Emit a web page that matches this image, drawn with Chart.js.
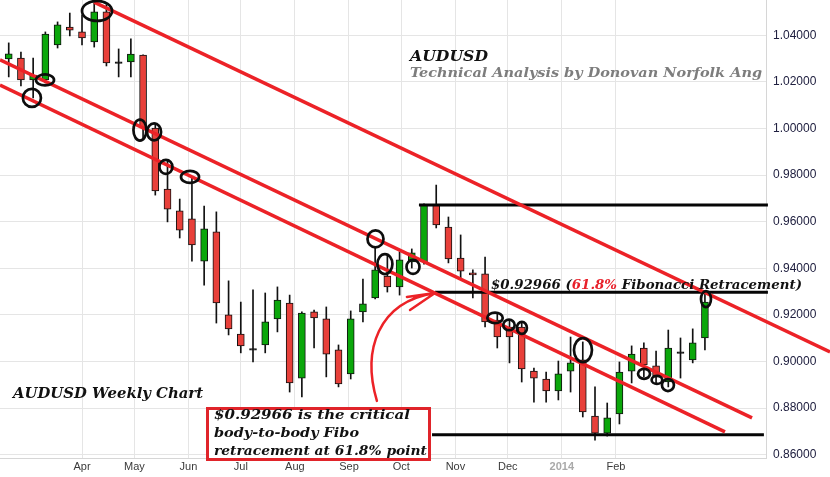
<!DOCTYPE html>
<html>
<head>
<meta charset="utf-8">
<script src="https://cdn.jsdelivr.net/npm/chart.js"></script>
<style>
  html, body { margin: 0; padding: 0; background: #fff; }
  #wrap { width: 830px; height: 477px; }
</style>
</head>
<body>
<div id="wrap"><canvas id="chart" width="830" height="477"></canvas></div>
<script>
// AUDUSD weekly candles (week start dates)
const weeks = [
  '2013-02-18', '2013-02-25', '2013-03-04', '2013-03-11', '2013-03-18', '2013-03-25',
  '2013-04-01', '2013-04-08', '2013-04-15', '2013-04-22', '2013-04-29', '2013-05-06',
  '2013-05-13', '2013-05-20', '2013-05-27', '2013-06-03', '2013-06-10', '2013-06-17',
  '2013-06-24', '2013-07-01', '2013-07-08', '2013-07-15', '2013-07-22', '2013-07-29',
  '2013-08-05', '2013-08-12', '2013-08-19', '2013-08-26', '2013-09-02', '2013-09-09',
  '2013-09-16', '2013-09-23', '2013-09-30', '2013-10-07', '2013-10-14', '2013-10-21',
  '2013-10-28', '2013-11-04', '2013-11-11', '2013-11-18', '2013-11-25', '2013-12-02',
  '2013-12-09', '2013-12-16', '2013-12-23', '2013-12-30', '2014-01-06', '2014-01-13',
  '2014-01-20', '2014-01-27', '2014-02-03', '2014-02-10', '2014-02-17', '2014-02-24',
  '2014-03-03', '2014-03-10', '2014-03-17', '2014-03-24'
];
const open = [
  1.0298, 1.0302, 1.0208, 1.0208, 1.0358, 1.0435, 1.0414, 1.0371, 1.0500, 1.0281,
  1.0285, 1.0315, 1.0002, 0.9740, 0.9646, 0.9612, 0.9431, 0.9556, 0.9200, 0.9118,
  0.9050, 0.9071, 0.9183, 0.9251, 0.8929, 0.9213, 0.9183, 0.9050, 0.8947, 0.9213,
  0.9273, 0.9367, 0.9320, 0.9427, 0.9427, 0.9672, 0.9577, 0.9444, 0.9380, 0.9376,
  0.9178, 0.9148, 0.9148, 0.8959, 0.8925, 0.8874, 0.8959, 0.9007, 0.8766, 0.8693,
  0.8775, 0.8959, 0.9058, 0.8981, 0.8912, 0.9037, 0.9007, 0.9101
];
const high = [
  1.0367, 1.0328, 1.0302, 1.0414, 1.0457, 1.0495, 1.0487, 1.0538, 1.0530, 1.0341,
  1.0384, 1.0316, 1.0023, 0.9865, 0.9697, 0.9792, 0.9667, 0.9642, 0.9346, 0.9255,
  0.9307, 0.9294, 0.9320, 0.9285, 0.9213, 0.9221, 0.9234, 0.9071, 0.9217, 0.9354,
  0.9491, 0.9457, 0.9470, 0.9483, 0.9676, 0.9757, 0.9620, 0.9543, 0.9393, 0.9448,
  0.9208, 0.9178, 0.9165, 0.8972, 0.8955, 0.9002, 0.9105, 0.9084, 0.8891, 0.8822,
  0.8998, 0.9067, 0.9080, 0.9045, 0.9135, 0.9101, 0.9140, 0.9303
];
const low = [
  1.0221, 1.0182, 1.0131, 1.0195, 1.0345, 1.0397, 1.0358, 1.0349, 1.0268, 1.0221,
  1.0221, 0.9959, 0.9714, 0.9599, 0.9530, 0.9431, 0.9328, 0.9165, 0.9114, 0.9037,
  0.8998, 0.9037, 0.9127, 0.8869, 0.8848, 0.9058, 0.8934, 0.8891, 0.8925, 0.9170,
  0.9268, 0.9298, 0.9285, 0.9401, 0.9418, 0.9573, 0.9423, 0.9358, 0.9273, 0.9148,
  0.9058, 0.8994, 0.8912, 0.8826, 0.8826, 0.8835, 0.8869, 0.8762, 0.8663, 0.8680,
  0.8732, 0.8908, 0.8934, 0.8908, 0.8891, 0.8929, 0.8994, 0.9050
];
const close = [
  1.0320, 1.0208, 1.0229, 1.0405, 1.0444, 1.0422, 1.0388, 1.0500, 1.0281, 1.0279,
  1.0319, 1.0002, 0.9732, 0.9654, 0.9564, 0.9500, 0.9569, 0.9251, 0.9140, 0.9067,
  0.9049, 0.9170, 0.9264, 0.8908, 0.9208, 0.9187, 0.9032, 0.8904, 0.9183, 0.9247,
  0.9393, 0.9320, 0.9436, 0.9466, 0.9672, 0.9586, 0.9440, 0.9388, 0.9371, 0.9170,
  0.9105, 0.9105, 0.8968, 0.8929, 0.8874, 0.8947, 0.8994, 0.8784, 0.8693, 0.8758,
  0.8955, 0.9032, 0.8985, 0.8938, 0.9058, 0.9035, 0.9080, 0.9255
];

// axis ticks
const monthTicks = ['2013-04-01', '2013-05-01', '2013-06-01', '2013-07-01', '2013-08-01', '2013-09-01',
                    '2013-10-01', '2013-11-01', '2013-12-01', '2014-01-01', '2014-02-01'];
const monthLabels = ['Apr', 'May', 'Jun', 'Jul', 'Aug', 'Sep', 'Oct', 'Nov', 'Dec', '2014', 'Feb'];
const priceTicks = [0.86, 0.88, 0.90, 0.92, 0.94, 0.96, 0.98, 1.00, 1.02, 1.04];

// hand drawn analysis (x = days since 1 Jan 2013, y = price)
const channelTop = [[96.9, 1.0542], [518.7, 0.9041]];
const channelMid = [[43.0, 1.0294], [474.0, 0.8758]];
const channelLow = [[43.0, 1.0186], [458.5, 0.8698]];
const swingHigh = [[283.1, 0.9672], [483.1, 0.9672]];
const fibLine = [[292.3, 0.92966], [483.1, 0.92966]];
const swingLow = [[290.6, 0.8686], [480.8, 0.8686]];
const rings = [
  [98.6, 1.0504], [68.8, 1.0208], [61.3, 1.0131], [123.2, 0.9993], [131.3, 0.9985],
  [138.1, 0.9835], [151.9, 0.9792], [258.2, 0.9526], [263.6, 0.9418], [279.7, 0.9406],
  [326.7, 0.9187], [334.7, 0.9157], [342.1, 0.9144], [377.1, 0.9049], [412.1, 0.8947],
  [419.5, 0.8921], [425.8, 0.8899], [447.6, 0.9268]
];
const ringSize = [
  [15, 10], [9, 5.5], [9, 9], [6.5, 10.5], [7, 8.5], [6.5, 7], [9, 6], [8, 8.5], [7.5, 10],
  [6.5, 7], [7.7, 5.2], [5.7, 5.3], [5, 6], [9, 12], [6, 5], [5.3, 4], [6, 6], [5, 8]
];
const arrowPath = [[259.0, 0.8831], [250.4, 0.9050], [259.6, 0.9255], [292.3, 0.9294]];
const arrowBarbs = [[276.2, 0.9277], [278.0, 0.9221]];

const t0 = Date.UTC(2013, 0, 1);
const day = s => (Date.parse(s) - t0) / 864e5;
const X = weeks.map(day);

const RED = '#ec2227';
const bodyColor = i => Math.abs(close[i] - open[i]) < 0.0004 ? '#111'
  : (close[i] > open[i] ? '#0ba70b' : '#e8403a');
const pts = arr => arr.map(([x, y]) => ({x, y}));
const lineSet = (arr, color, w) => ({
  type: 'line', data: pts(arr), borderColor: color, borderWidth: w,
  pointRadius: 0, clip: false, order: 0, tension: 0
});

function drawText(ctx, parts, x, y, width, size) {
  ctx.font = 'italic bold ' + size + 'px "DejaVu Serif"';
  const full = parts.map(p => p[0]).join('');
  const sx = width / ctx.measureText(full).width;
  ctx.save();
  ctx.translate(x, y);
  ctx.scale(sx, 1);
  ctx.textBaseline = 'alphabetic';
  let cx = 0;
  parts.forEach(([t, c]) => {
    ctx.fillStyle = c;
    ctx.fillText(t, cx, 0);
    cx += ctx.measureText(t).width;
  });
  ctx.restore();
}

const overlay = {
  id: 'overlay',
  afterDatasetsDraw(chart) {
    const ctx = chart.ctx;
    const xs = chart.scales.x, ys = chart.scales.y;
    const px = p => [xs.getPixelForValue(p[0]), ys.getPixelForValue(p[1])];
    ctx.save();

    // circled touches
    ctx.strokeStyle = '#0d0d0d';
    ctx.lineWidth = 2.7;
    rings.forEach((r, i) => {
      const [cx, cy] = px(r);
      ctx.beginPath();
      ctx.ellipse(cx, cy, ringSize[i][0], ringSize[i][1], 0, 0, Math.PI * 2);
      ctx.stroke();
    });

    // curved arrow to the fib level
    const [a, b, c, d] = arrowPath.map(px);
    ctx.strokeStyle = RED;
    ctx.lineWidth = 2.5;
    ctx.lineCap = 'round';
    ctx.beginPath();
    ctx.moveTo(a[0], a[1]);
    ctx.bezierCurveTo(b[0], b[1], c[0], c[1], d[0], d[1]);
    arrowBarbs.map(px).forEach(p => { ctx.moveTo(d[0], d[1]); ctx.lineTo(p[0], p[1]); });
    ctx.stroke();

    // note box
    ctx.fillStyle = '#fff';
    ctx.fillRect(207, 407, 223, 53);
    ctx.strokeStyle = '#e0242a';
    ctx.lineWidth = 3;
    ctx.strokeRect(207.5, 408.5, 222, 51);

    drawText(ctx, [['AUDUSD', '#111']], 410, 61, 78, 14);
    drawText(ctx, [['Technical Analysis by Donovan Norfolk Ang', '#7d7d7d']], 410, 77, 352, 13);
    drawText(ctx, [['AUDUSD Weekly Chart', '#111']], 13, 398, 190, 15);
    drawText(ctx, [['$0.92966 (', '#111'], ['61.8%', '#e8202a'], [' Fibonacci Retracement)', '#111']],
      491, 289, 311, 13.5);
    drawText(ctx, [['$0.92966 is the critical', '#111']], 214, 419, 196, 13.5);
    drawText(ctx, [['body-to-body Fibo', '#111']], 214, 437, 145, 13.5);
    drawText(ctx, [['retracement at 61.8% point', '#111']], 214, 455, 213, 13.5);
    ctx.restore();
  }
};

new Chart(document.getElementById('chart'), {
  type: 'bar',
  data: {
    datasets: [
      lineSet(channelTop, RED, 3.5),
      lineSet(channelMid, RED, 3.5),
      lineSet(channelLow, RED, 3.5),
      lineSet(swingHigh, '#050505', 3),
      lineSet(fibLine, '#050505', 3),
      lineSet(swingLow, '#050505', 3),
      {
        label: 'body',
        data: X.map((x, i) => ({x, y: [open[i], close[i]]})),
        backgroundColor: ctx => bodyColor(ctx.dataIndex),
        borderColor: '#111',
        borderWidth: 1,
        borderSkipped: false,
        barThickness: 7,
        minBarLength: 1.5,
        grouped: false,
        order: 1
      },
      {
        label: 'wick',
        data: X.map((x, i) => ({x, y: [low[i], high[i]]})),
        backgroundColor: '#111',
        barThickness: 1,
        grouped: false,
        order: 2
      }
    ]
  },
  options: {
    responsive: false,
    animation: false,
    events: [],
    layout: { padding: 0 },
    plugins: { legend: { display: false }, tooltip: { enabled: false } },
    scales: {
      x: {
        type: 'linear', min: 43, max: 482, offset: false,
        grid: { color: '#e5e5e5', drawTicks: false, offset: false },
        border: { color: '#d6d6d6' },
        ticks: {
          autoSkip: false, maxRotation: 0, padding: 2,
          color: c => c.index === 9 ? '#a9a9a9' : '#3a3a3a',
          font: c => ({ family: '"Liberation Sans", Arial', size: 11, weight: c.index === 9 ? 'bold' : 'normal' }),
          callback: (v, i) => monthLabels[i]
        },
        afterBuildTicks: s => { s.ticks = monthTicks.map(m => ({ value: day(m) })); },
        afterFit: s => { s.height = 19; s.paddingLeft = 0; s.paddingRight = 0; }
      },
      y: {
        position: 'right', min: 0.8586, max: 1.0551,
        grid: { color: '#e5e5e5', drawTicks: false },
        border: { color: '#d6d6d6' },
        ticks: {
          padding: 7, color: '#202040',
          font: { family: '"Liberation Sans", Arial', size: 12 },
          callback: v => v.toFixed(5)
        },
        afterBuildTicks: s => { s.ticks = priceTicks.map(v => ({ value: v })); },
        afterFit: s => { s.width = 64; s.paddingTop = 0; s.paddingBottom = 0; }
      }
    }
  },
  plugins: [overlay]
});
</script>
</body>
</html>
